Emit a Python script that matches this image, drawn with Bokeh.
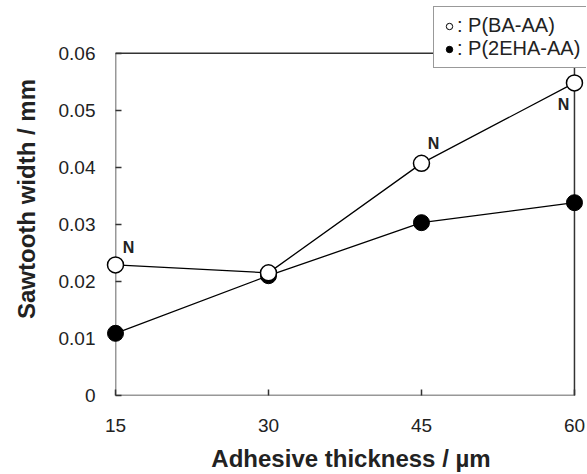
from bokeh.plotting import figure
from bokeh.models import (FixedTicker, CustomJSTickFormatter, Legend, LegendItem,
                          ColumnDataSource, Range1d)
from bokeh.core.properties import value
from bokeh.embed import file_html
from bokeh.resources import INLINE

# Data
thickness = [15, 30, 45, 60]
ba_aa = [0.0229, 0.0215, 0.0407, 0.0548]
ehaa = [0.0109, 0.0210, 0.0303, 0.0338]
x_ticks = [15, 30, 45, 60]
y_ticks = [0, 0.01, 0.02, 0.03, 0.04, 0.05, 0.06]
n_x = [15, 45, 60]
n_y = [0.0229, 0.0407, 0.0548]
n_dx = [13, 12, -11]
n_dy = [-17, -20, 22]

FONT = "Liberation Sans"
INK = "#222222"

# frame extends a little beyond the data box so the legend can overlap it
p = figure(width=587, height=474, output_backend="svg", toolbar_location=None,
           x_range=Range1d(15, 61.18), y_range=Range1d(0, 0.0689),
           min_border_left=115, min_border_right=1, min_border_top=2,
           min_border_bottom=78)
p.grid.visible = False
p.outline_line_color = None
p.background_fill_color = "white"
p.border_fill_color = "white"

for ax in (p.xaxis[0], p.yaxis[0]):
    ax.axis_line_color = None
    ax.major_tick_in = 6
    ax.major_tick_out = 0
    ax.minor_tick_line_color = None
    ax.major_tick_line_color = "#333333"
    ax.major_tick_line_width = 1.5
    ax.major_label_text_font = FONT
    ax.major_label_text_font_size = "19px"
    ax.major_label_text_color = INK
    ax.axis_label_text_font = FONT
    ax.axis_label_text_font_style = "bold"
    ax.axis_label_text_font_size = "24px"
    ax.axis_label_text_color = INK

p.xaxis.ticker = FixedTicker(ticks=x_ticks)
p.yaxis.ticker = FixedTicker(ticks=y_ticks)
p.yaxis.formatter = CustomJSTickFormatter(code="return tick == 0 ? '0' : tick.toFixed(2);")
p.xaxis.axis_label = "Adhesive thickness / µm"
p.yaxis.axis_label = "Sawtooth width / mm"
p.xaxis.major_label_standoff = 23
p.yaxis.major_label_standoff = 20
p.xaxis.axis_label_standoff = 10
p.yaxis.axis_label_standoff = 16

# data box (frame of the chart)
p.quad(left=[x_ticks[0]], right=[x_ticks[-1]], bottom=[y_ticks[0]], top=[y_ticks[-1]],
       fill_color=None, line_color="#333333", line_width=1.5)

p.line(thickness, ba_aa, line_color="black", line_width=1.3)
p.line(thickness, ehaa, line_color="black", line_width=1.3)
p.scatter(thickness, ehaa, size=16, marker="circle", fill_color="black",
          line_color="black", level="overlay")
p.scatter(thickness, ba_aa, size=16, marker="circle", fill_color="white",
          line_color="black", line_width=1.5, level="overlay")

src = ColumnDataSource(dict(x=n_x, y=n_y, dx=n_dx, dy=n_dy))
p.text(x="x", y="y", x_offset="dx", y_offset="dy", text=value("N"), source=src,
       text_font=value(FONT), text_font_style="bold", text_font_size="16px",
       text_align="center", text_baseline="middle", text_color=INK,
       level="overlay")

# legend with small markers (dummy renderers)
r1 = p.scatter([float("nan")], [float("nan")], size=9, marker="circle",
               fill_color="white", line_color="black", line_width=1)
r2 = p.scatter([float("nan")], [float("nan")], size=9, marker="circle",
               fill_color="black", line_color="black")
legend = Legend(items=[LegendItem(label=": P(BA-AA)", renderers=[r1]),
                       LegendItem(label=": P(2EHA-AA)", renderers=[r2])],
                location=(318, 327))
legend.glyph_width = 16
legend.glyph_height = 18
legend.label_standoff = 0
legend.padding = 7
legend.spacing = 0
legend.margin = 0
legend.label_height = 21
legend.label_text_font = FONT
legend.label_text_font_size = "20px"
legend.label_text_color = INK
legend.border_line_color = "#333333"
legend.border_line_width = 1.5
legend.background_fill_alpha = 1
p.add_layout(legend, "center")

open("out.html", "w").write(file_html(p, INLINE))
